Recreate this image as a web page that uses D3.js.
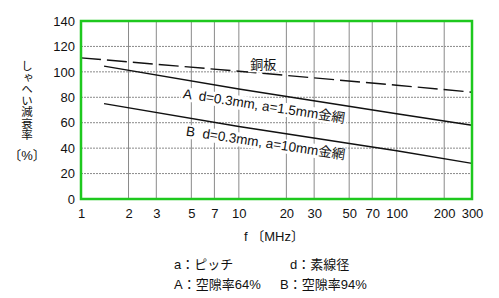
<!DOCTYPE html>
<html>
<head>
<meta charset="utf-8">
<script src="https://cdn.jsdelivr.net/npm/d3@7"></script>
<style>
  body { margin: 0; background: #fff; }
  text { font-family: "Liberation Sans", "Noto Sans CJK JP", sans-serif; fill: #111; }
</style>
</head>
<body>
<div id="chart"></div>
<script>
var w = 499;
var h = 298;
var margin = { top: 21, right: 27, bottom: 99, left: 81 };
var width = w - margin.left - margin.right;
var height = h - margin.top - margin.bottom;

// tick values
var freqTicks = [1, 2, 3, 5, 7, 10, 20, 30, 50, 70, 100, 200, 300];
var attenTicks = [0, 20, 40, 60, 80, 100, 120, 140];

// curves: frequency (MHz) and attenuation (%)
var copperFreq = [1, 10, 100, 300];
var copperAtten = [111, 100.5, 89.5, 84];
var meshAFreq = [1.4, 10, 100, 300];
var meshAAtten = [104.5, 86.5, 67, 58];
var meshBFreq = [1.4, 10, 100, 300];
var meshBAtten = [75, 57, 38, 28];

var svg = d3.select("#chart")
    .append("svg")
    .attr("width", w)
    .attr("height", h)
    .append("g")
    .attr("transform", "translate(" + margin.left + "," + margin.top + ")");

var xScale = d3.scaleLog().domain([1, 300]).range([0, width]);
var yScale = d3.scaleLinear().domain([0, 140]).range([height, 0]);

// grid
svg.selectAll(".vgrid")
    .data(freqTicks.slice(1, -1))
    .enter().append("line")
    .attr("x1", function(d) { return xScale(d); })
    .attr("x2", function(d) { return xScale(d); })
    .attr("y1", 0)
    .attr("y2", height)
    .attr("stroke", "#8a8a8a")
    .attr("stroke-width", 1);

svg.selectAll(".hgrid")
    .data(attenTicks.slice(1, -1))
    .enter().append("line")
    .attr("x1", 0)
    .attr("x2", width)
    .attr("y1", function(d) { return yScale(d); })
    .attr("y2", function(d) { return yScale(d); })
    .attr("stroke", "#8a8a8a")
    .attr("stroke-width", 1)
    .attr("stroke-dasharray", "2,1");

// axes (labels only)
var xAxis = svg.append("g")
    .attr("transform", "translate(0," + height + ")")
    .call(d3.axisBottom(xScale).tickValues(freqTicks).tickFormat(d3.format("d")).tickSize(0).tickPadding(10));
var yAxis = svg.append("g")
    .call(d3.axisLeft(yScale).tickValues(attenTicks).tickSize(0).tickPadding(6));
[xAxis, yAxis].forEach(function(a) {
    a.select(".domain").remove();
    a.selectAll("text").style("font-size", "13px").attr("fill", "#111");
});

function pts(fs, vs) { return fs.map(function(f, i) { return [f, vs[i]]; }); }
var line = d3.line()
    .x(function(d) { return xScale(d[0]); })
    .y(function(d) { return yScale(d[1]); });

svg.append("path")
    .datum(pts(copperFreq, copperAtten))
    .attr("d", line)
    .attr("fill", "none")
    .attr("stroke", "#111")
    .attr("stroke-width", 1.4)
    .attr("stroke-dasharray", "20,6");

svg.append("path")
    .datum(pts(meshAFreq, meshAAtten))
    .attr("d", line)
    .attr("fill", "none")
    .attr("stroke", "#111")
    .attr("stroke-width", 1.4);

svg.append("path")
    .datum(pts(meshBFreq, meshBAtten))
    .attr("d", line)
    .attr("fill", "none")
    .attr("stroke", "#111")
    .attr("stroke-width", 1.4);

// line labels with white knock-out behind them
function label(txt, f, v, angle, size) {
    var g = svg.append("g")
        .attr("transform", "translate(" + xScale(f) + "," + yScale(v) + ") rotate(" + angle + ")");
    var t = g.append("text").text(txt)
        .style("font-size", size + "px")
        .style("white-space", "pre");
    var bb = t.node().getBBox();
    g.insert("rect", "text")
        .attr("x", bb.x - 2).attr("y", bb.y + 1)
        .attr("width", bb.width + 4).attr("height", bb.height - 1)
        .attr("fill", "#fff");
}
label("銅板", 11.8, 102, 0, 13);
label("A  d=0.3mm, a=1.5mm金網", 4.4, 79.5, 8.8, 13.5);
label("B  d=0.3mm, a=10mm金網", 4.6, 50, 8.6, 13.5);

// green frame
svg.append("rect")
    .attr("x", 0).attr("y", 0)
    .attr("width", width).attr("height", height)
    .attr("fill", "none")
    .attr("stroke", "#1ec81e")
    .attr("stroke-width", 2.5);

// axis titles
var root = d3.select("svg");
root.append("text")
    .attr("x", 26).attr("y", 60)
    .style("writing-mode", "vertical-rl")
    .style("font-size", "11.5px")
    .text("しゃへい減衰率");
root.append("text")
    .attr("x", 27).attr("y", 160)
    .attr("text-anchor", "middle")
    .style("font-size", "13px")
    .text("〔%〕");
root.append("text")
    .attr("x", 244).attr("y", 241)
    .style("font-size", "13px")
    .text("f 〔MHz〕");

// notes
var notes = [["a：ピッチ", 174, 269], ["d：素線径", 290, 269], ["A：空隙率64%", 174, 289], ["B：空隙率94%", 280, 289]];
root.selectAll(".note")
    .data(notes)
    .enter().append("text")
    .attr("x", function(d) { return d[1]; })
    .attr("y", function(d) { return d[2]; })
    .style("font-size", "13px")
    .text(function(d) { return d[0]; });
</script>
</body>
</html>
